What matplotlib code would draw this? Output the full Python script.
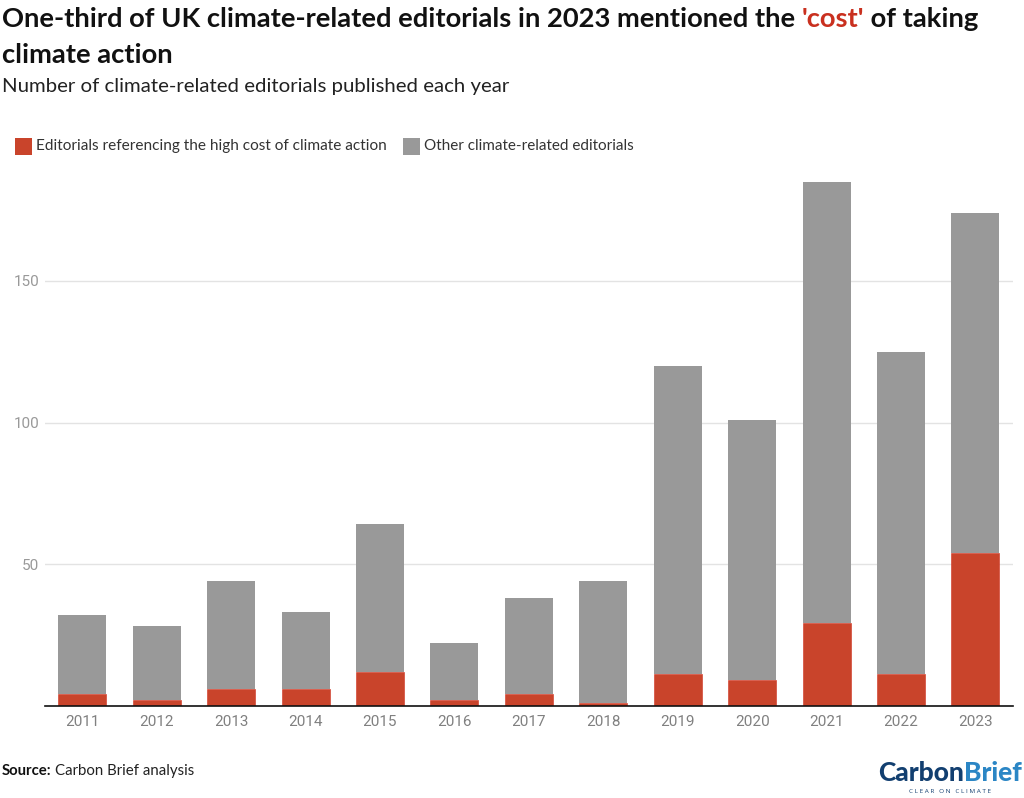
import matplotlib
matplotlib.use("Agg")
import matplotlib.pyplot as plt
from matplotlib.patches import Rectangle

years = ["2011","2012","2013","2014","2015","2016","2017","2018","2019","2020","2021","2022","2023"]
cost = [4,2,6,6,12,2,4,1,11,9,29,11,54]
other = [28,26,38,27,52,20,34,43,109,92,156,114,120]
yticks = [50,100,150]

W, H = 1024, 798
RED = "#c9442b"; GREY = "#999999"
FONT = "Lato"
fig = plt.figure(figsize=(W/100, H/100), dpi=100, facecolor="white")
ax = fig.add_axes([45/W, 1-705.5/H, (1012.7-45)/W, (705.5-180)/H])
x = list(range(len(years)))
ax.bar(x, cost, width=0.645, color=RED, edgecolor="#d0301f", linewidth=0.4)
ax.bar(x, other, width=0.645, bottom=cost, color=GREY, linewidth=0)
ax.set_xlim(-0.5, 12.5)
ax.set_ylim(0, (705.5-180)/2.83)
ax.set_xticks(x, years, family="Roboto")
ax.set_yticks(yticks, [str(v) for v in yticks], family="Roboto")
ax.grid(axis="y", color="#e3e3e3", lw=1)
ax.set_axisbelow(True)
for s in ["top","right","left"]:
    ax.spines[s].set_visible(False)
ax.spines["bottom"].set_color("#111111")
ax.spines["bottom"].set_linewidth(1.2)
ax.tick_params(length=0)
ax.tick_params(axis="x", pad=7, labelsize=11, labelcolor="#808080")
ax.tick_params(axis="y", pad=4, labelsize=11, labelcolor="#999999")

def px(xp, yp): return xp/W, 1-yp/H
r = fig.canvas.get_renderer()
cx = 2
for s, c in [("One-third of UK climate-related editorials in 2023 mentioned the ", "#111111"), ("'cost'", "#c9301f"), (" of taking", "#111111")]:
    t = fig.text(*px(cx, 27), s.replace(" ", "\u00a0"), fontsize=19.7, fontweight="bold", family=FONT, color=c, va="baseline")
    cx = t.get_window_extent(r).x1
fig.text(*px(2, 63), "climate action", fontsize=19.7, fontweight="bold", family=FONT, color="#111111", va="baseline")
fig.text(*px(2, 92), "Number of climate-related editorials published each year", fontsize=14.7, family=FONT, color="#222222", va="baseline")

fig.add_artist(Rectangle(px(14.5, 154.5), 17/W, 17/H, transform=fig.transFigure, color=RED, lw=0))
fig.text(*px(36, 150), "Editorials referencing the high cost of climate action", fontsize=11.1, family=FONT, color="#333333", va="baseline")
fig.add_artist(Rectangle(px(402.5, 154.5), 17/W, 17/H, transform=fig.transFigure, color=GREY, lw=0))
fig.text(*px(424, 150), "Other climate-related editorials", fontsize=11, family=FONT, color="#333333", va="baseline")

fig.text(*px(2, 775), "Source:", fontsize=10.7, fontweight="bold", family=FONT, color="#111111", va="baseline")
fig.text(*px(55, 775), "Carbon Brief analysis", fontsize=10.8, family=FONT, color="#222222", va="baseline")

t = fig.text(*px(878, 781), "Carbon", fontsize=19, fontweight="black", family=FONT, color="#123f70", va="baseline")
e = t.get_window_extent(r)
fig.text(e.x1/W, 1-781/H, "Brief", fontsize=19, fontweight="black", family=FONT, color="#2b86c5", va="baseline")
fig.text(*px(909, 793), "C L E A R   O N   C L I M A T E", fontsize=4.6, family="Open Sans", color="#123f70", va="baseline")

fig.savefig("out.png", dpi=100, facecolor="white")
